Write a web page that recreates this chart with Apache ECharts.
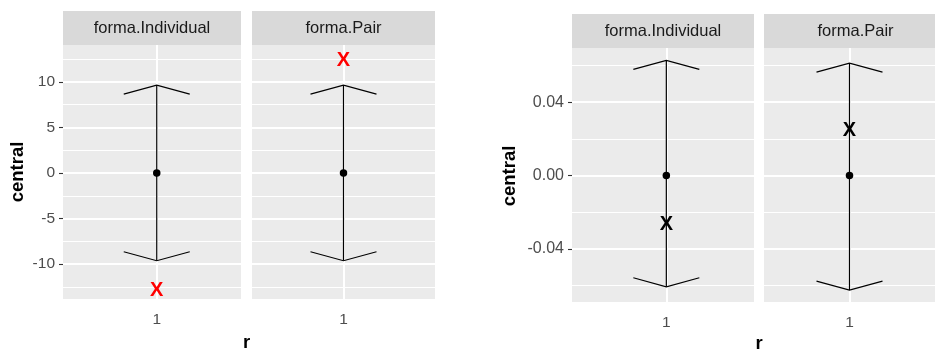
<!DOCTYPE html>
<html>
<head>
<meta charset="utf-8">
<script src="https://cdn.jsdelivr.net/npm/echarts@6/dist/echarts.min.js"></script>
<style>html,body{margin:0;padding:0;background:#fff;}#c{width:935px;height:350px;}</style>
</head>
<body>
<div id="c"></div>
<script>
// ---- data ----
const facets = ['forma.Individual', 'forma.Pair'];
const xTicks = [1];
const leftCentral = [0, 0];
const leftLower = [-9.62, -9.62];
const leftUpper = [9.64, 9.64];
const leftMark = [-12.9, 12.35];
const leftYTicks = [-10, -5, 0, 5, 10];
const leftYMinor = [-12.5, -7.5, -2.5, 2.5, 7.5, 12.5];
const rightCentral = [0, 0];
const rightLower = [-0.0606, -0.0624];
const rightUpper = [0.0628, 0.0613];
const rightMark = [-0.0268, 0.0247];
const rightYTicks = [-0.04, 0, 0.04];
const rightYMinor = [-0.06, -0.02, 0.02, 0.06];

// ---- layout ----
const FONT = 'Liberation Sans, Arial, sans-serif';
const charts = [
  {central: leftCentral, lower: leftLower, upper: leftUpper, mark: leftMark,
   ticks: leftYTicks, minor: leftYMinor, yMin: -13.82, yMax: 14.04,
   markColor: '#ff0000', fmt: v => String(v), stripH: 34,
   titleY: {x: 17.5, y: 172}, titleX: {x: 246.5, y: 342.5}},
  {central: rightCentral, lower: rightLower, upper: rightUpper, mark: rightMark,
   ticks: rightYTicks, minor: rightYMinor, yMin: -0.0689, yMax: 0.0695,
   markColor: '#000000', fmt: v => v.toFixed(2), stripH: 34,
   titleY: {x: 510, y: 176}, titleX: {x: 759, y: 344}}
];
const panels = [
  {c: 0, f: 0, left: 63, top: 45, width: 178, height: 254, xMin: 0.368, xMax: 1.568},
  {c: 0, f: 1, left: 252, top: 45, width: 183, height: 254, xMin: 0.4, xMax: 1.6},
  {c: 1, f: 0, left: 572, top: 48, width: 182, height: 254, xMin: 0.378, xMax: 1.578},
  {c: 1, f: 1, left: 764, top: 48, width: 183, height: 254, xMin: 0.4, xMax: 1.6}
];

const grid = [], xAxis = [], yAxis = [], series = [], graphic = [];
panels.forEach((p, gi) => {
  const ch = charts[p.c];
  grid.push({left: p.left, top: p.top, width: p.width, height: p.height,
    show: true, backgroundColor: '#ebebeb', borderWidth: 0, containLabel: false});
  xAxis.push({type: 'value', gridIndex: gi, min: p.xMin, max: p.xMax,
    axisLine: {show: false},
    axisTick: {show: true, length: 4, lineStyle: {color: '#333333', width: 1.1}, customValues: xTicks},
    axisLabel: {show: true, customValues: xTicks, color: '#4d4d4d', fontSize: 15.5, fontFamily: FONT, margin: 13},
    splitLine: {show: true, lineStyle: {color: '#ffffff', width: 2}}
  });
  const showLab = p.f === 0;
  yAxis.push({type: 'value', gridIndex: gi, min: ch.yMin, max: ch.yMax,
    axisLine: {show: false},
    axisTick: {show: showLab, length: 4, lineStyle: {color: '#333333', width: 1.1}, customValues: ch.ticks},
    axisLabel: {show: showLab, customValues: ch.ticks, color: '#4d4d4d', fontSize: p.c === 0 ? 15.5 : 16,
      fontFamily: FONT, margin: 8, formatter: ch.fmt},
    splitLine: {show: true, lineStyle: {color: '#ffffff', width: 2}}
  });
  const majorIdx = yAxis.length - 1;
  yAxis.push({type: 'value', gridIndex: gi, min: ch.yMin, max: ch.yMax, position: 'left',
    axisLine: {show: false},
    axisTick: {show: false, customValues: ch.minor},
    axisLabel: {show: false, customValues: ch.minor},
    splitLine: {show: true, lineStyle: {color: '#ffffff', width: 1}}
  });
  // error bar with open arrow heads
  series.push({type: 'custom', xAxisIndex: gi, yAxisIndex: majorIdx, silent: true, z: 3,
    data: [[xTicks[0], ch.lower[p.f], ch.upper[p.f]]],
    renderItem: function (params, api) {
      const x = api.value(0);
      const t = api.coord([x, api.value(2)]);
      const b = api.coord([x, api.value(1)]);
      const dx = 33, dy = 9;
      const st = {stroke: '#000', lineWidth: 1.2, fill: null};
      return {type: 'group', children: [
        {type: 'line', shape: {x1: t[0], y1: t[1], x2: b[0], y2: b[1]}, style: st},
        {type: 'polyline', shape: {points: [[t[0] - dx, t[1] + dy], [t[0], t[1]], [t[0] + dx, t[1] + dy]]}, style: st},
        {type: 'polyline', shape: {points: [[b[0] - dx, b[1] - dy], [b[0], b[1]], [b[0] + dx, b[1] - dy]]}, style: st}
      ]};
    }
  });
  series.push({type: 'scatter', xAxisIndex: gi, yAxisIndex: majorIdx, silent: true, z: 4,
    symbol: 'circle', symbolSize: 7.5, itemStyle: {color: '#000', opacity: 1},
    data: [[xTicks[0], ch.central[p.f]]]});
  series.push({type: 'scatter', xAxisIndex: gi, yAxisIndex: majorIdx, silent: true, z: 5,
    symbol: 'circle', symbolSize: 1, itemStyle: {color: 'rgba(0,0,0,0)', opacity: 1},
    label: {show: true, position: 'inside', formatter: 'X', color: ch.markColor,
      fontSize: 20, fontWeight: 'bold', fontFamily: FONT},
    data: [[xTicks[0], ch.mark[p.f]]]});
  // facet strip
  graphic.push({type: 'rect', silent: true, z: 10,
    shape: {x: p.left, y: p.top - ch.stripH, width: p.width, height: ch.stripH},
    style: {fill: '#d9d9d9'}});
  graphic.push({type: 'text', silent: true, z: 11,
    x: p.left + p.width / 2, y: p.top - ch.stripH / 2,
    style: {text: facets[p.f], fill: '#1a1a1a', font: '16.5px ' + FONT, align: 'center', verticalAlign: 'middle'}});
});
charts.forEach(ch => {
  graphic.push({type: 'text', silent: true, z: 11, x: ch.titleY.x, y: ch.titleY.y, rotation: Math.PI / 2,
    style: {text: 'central', fill: '#000', font: 'bold 18.5px ' + FONT, align: 'center', verticalAlign: 'middle'}});
  graphic.push({type: 'text', silent: true, z: 11, x: ch.titleX.x, y: ch.titleX.y,
    style: {text: 'r', fill: '#000', font: 'bold 18.5px ' + FONT, align: 'center', verticalAlign: 'middle'}});
});

const chart = echarts.init(document.getElementById('c'), null, {renderer: 'canvas', width: 935, height: 350});
chart.setOption({animation: false, backgroundColor: '#ffffff', grid, xAxis, yAxis, series, graphic});
</script>
</body>
</html>
